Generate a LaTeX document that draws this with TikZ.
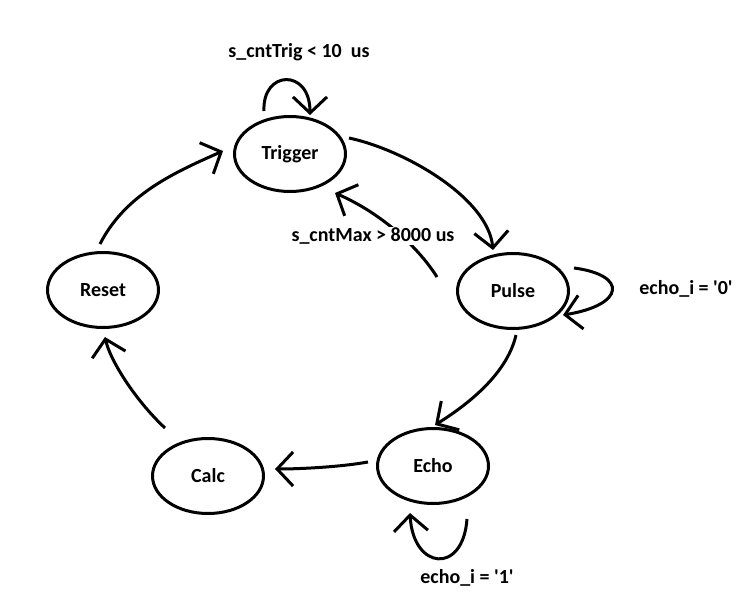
\documentclass[tikz,border=0pt]{standalone}
\usepackage{fontspec}
\setmainfont{Carlito}[Ligatures=TeXOff]
\usetikzlibrary{arrows.meta,shapes.geometric,calc}
\begin{document}
\begin{tikzpicture}[x=1pt,y=-1pt,
  st/.style={ellipse,draw,line width=3pt,minimum width=111pt,minimum height=75pt,inner sep=0pt,font=\fontsize{20}{24}\selectfont\bfseries},
  lbl/.style={font=\fontsize{20}{24}\selectfont\bfseries,inner sep=1pt},
  arr/.style={line width=3pt,-{Straight Barb[length=16pt,width=34pt]}}]
\useasboundingbox (0,0) rectangle (750,602);
\node[st] (trig) at (290,154) {Trigger};
\node[st] (pulse) at (513,291) {Pulse};
\node[st] (echo) at (433,466) {Echo};
\node[st] (calc) at (208,476) {Calc};
\node[st] (reset) at (103,290) {Reset};

\draw[arr] ($(trig)+(-26,-43)$) .. controls (262,70) and (310,68) .. ($(trig)+(20,-39)$);
\draw[arr] ($(trig)+(59,-16)$) .. controls (405,150) and (488,198) .. ($(pulse)+(-20,-41)$);
\draw[arr] ($(pulse)+(-76,-14)$) .. controls (420,250) and (385,215) .. ($(trig)+(45,39)$);
\draw[arr] ($(pulse)+(61,-23)$) .. controls (628,275) and (625,305) .. ($(pulse)+(50,24)$);
\draw[arr] ($(pulse)+(3,44)$) .. controls (508,370) and (475,400) .. ($(echo)+(2,-41)$);
\draw[arr] ($(echo)+(34,53)$) .. controls (463,575) and (413,570) .. ($(echo)+(-23,47)$);
\draw[arr] ($(echo)+(-65,-4)$) .. controls (340,467) and (300,469) .. ($(calc)+(67,-7)$);
\draw[arr] ($(calc)+(-43,-48)$) .. controls (135,400) and (110,360) .. ($(reset)+(2,47)$);
\draw[arr] ($(reset)+(-3,-46)$) .. controls (125,195) and (173,173) .. ($(trig)+(-67,-3)$);

\node[lbl] (l1) at (299,52) {s\_cntTrig < 10\ \ us};
\node[lbl,fill=white] (l2) at (373,236) {s\_cntMax > 8000 us};
\node[lbl] (l3) at (686,289) {echo\_i = '0'};
\node[lbl] (l4) at (467,578) {echo\_i = '1'};
\end{tikzpicture}
\end{document}
